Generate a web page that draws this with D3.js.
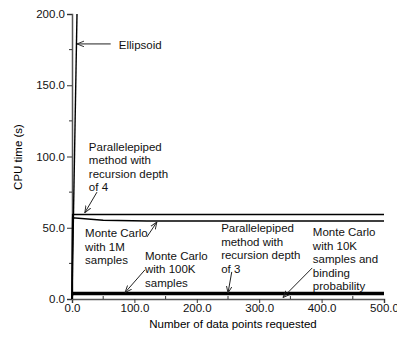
<!DOCTYPE html>
<html lang="en">
<head>
<meta charset="utf-8">
<title>CPU time</title>
<script src="https://cdn.jsdelivr.net/npm/d3@7"></script>
<style>
  body { margin: 0; background: #fff; }
  text { font-family: "Liberation Sans", Arial, sans-serif; }
</style>
</head>
<body>
<script>
// series values (x = data points, y = CPU seconds)
var ellipsoid = [[0, 0], [8, 200]];
var para4 = [[0, 0], [1, 59.3], [500, 59.3]];
var mc1M = [[0, 0], [1, 57], [50, 55.3], [120, 54.7], [500, 54.7]];
var mc100K = [[0, 0], [1, 4.6], [500, 4.6]];
var para3 = [[0, 0], [1, 3.9], [500, 3.9]];
var mc10K = [[0, 0], [1, 3.2], [500, 3.2]];

var xTicks = [0, 100, 200, 300, 400, 500];
var yTicks = [0, 50, 100, 150, 200];

// annotation labels: text position, arrow start and arrow tip (data units)
var notes = [
  { lines: ["Ellipsoid"], tx: 75, ty: 175.5, from: [62, 179], to: [8, 179] },
  { lines: ["Parallelepiped", "method with", "recursion depth", "of 4"], tx: 27, ty: 104, from: [40, 75], to: [20.5, 60.5] },
  { lines: ["Monte Carlo", "with 1M", "samples"], tx: 21, ty: 43.5, from: [120, 43.5], to: [136, 54] },
  { lines: ["Monte Carlo", "with 100K", "samples"], tx: 117, ty: 27.4, from: [117, 20.5], to: [85, 4.5] },
  { lines: ["Parallelepiped", "method with", "recursion depth", "of 3"], tx: 239, ty: 47, from: [256, 19], to: [250, 4.2] },
  { lines: ["Monte Carlo", "with 10K", "samples and", "binding", "probability"], tx: 386, ty: 44.2, from: [385, 21.8], to: [338, 1] }
];

var width = 397, height = 337;
var x = d3.scaleLinear().domain([0, 500]).range([72, 384]);
var y = d3.scaleLinear().domain([0, 200]).range([299, 14]);

var svg = d3.select("body").append("svg")
    .attr("width", width)
    .attr("height", height);

svg.append("defs").append("marker")
    .attr("id", "head")
    .attr("viewBox", "0 0 10 10")
    .attr("refX", 10).attr("refY", 5)
    .attr("markerWidth", 7).attr("markerHeight", 7)
    .attr("markerUnits", "userSpaceOnUse")
    .attr("orient", "auto")
  .append("path")
    .attr("d", "M0,1 L10,5 L0,9")
    .attr("fill", "none")
    .attr("stroke", "#222")
    .attr("stroke-width", 1.3);

svg.append("clipPath").attr("id", "plot")
  .append("rect").attr("x", 70).attr("y", 14).attr("width", 316).attr("height", 287);

// axes
var xAxis = svg.append("g")
    .attr("transform", "translate(0,299)")
    .call(d3.axisBottom(x).tickValues(xTicks).tickFormat(d3.format(".1f")).tickSize(4).tickPadding(1));
var yAxis = svg.append("g")
    .attr("transform", "translate(72,0)")
    .call(d3.axisLeft(y).tickValues(yTicks).tickFormat(d3.format(".1f")).tickSize(5).tickPadding(2));

[xAxis, yAxis].forEach(function(a) {
  a.select(".domain").attr("stroke", "#555").attr("stroke-width", 1.5);
  a.selectAll(".tick line").attr("stroke", "#333");
  a.selectAll("text").attr("font-size", 11.5).attr("fill", "#111")
    .style("font-family", "Liberation Sans, Arial, sans-serif");
});

// minor ticks
svg.append("g").selectAll("line")
    .data([50, 150, 250, 350, 450])
  .enter().append("line")
    .attr("x1", d => x(d)).attr("x2", d => x(d))
    .attr("y1", 299).attr("y2", 296)
    .attr("stroke", "#333");
svg.append("g").selectAll("line")
    .data([25, 75, 125, 175])
  .enter().append("line")
    .attr("x1", 72).attr("x2", 69)
    .attr("y1", d => y(d)).attr("y2", d => y(d))
    .attr("stroke", "#333");

// series
var line = d3.line().x(d => x(d[0])).y(d => y(d[1]));
svg.append("g")
    .attr("clip-path", "url(#plot)")
  .selectAll("path")
    .data([ellipsoid, para4, mc1M, mc100K, para3, mc10K])
  .enter().append("path")
    .attr("d", line)
    .attr("fill", "none")
    .attr("stroke", "#000")
    .attr("stroke-width", 1.4);

// annotations
var ann = svg.append("g");
notes.forEach(function(n) {
  var t = ann.append("text")
      .attr("x", x(n.tx))
      .attr("y", y(n.ty))
      .attr("font-size", 11.5)
      .attr("fill", "#111");
  n.lines.forEach(function(s, i) {
    t.append("tspan").attr("x", x(n.tx)).attr("dy", i ? 13.5 : 0).text(s);
  });
  ann.append("line")
      .attr("x1", x(n.from[0])).attr("y1", y(n.from[1]))
      .attr("x2", x(n.to[0])).attr("y2", y(n.to[1]))
      .attr("stroke", "#222")
      .attr("stroke-width", 1)
      .attr("marker-end", "url(#head)");
});

// axis titles
svg.append("text")
    .attr("x", 233).attr("y", 328)
    .attr("text-anchor", "middle")
    .attr("font-size", 11.5)
    .text("Number of data points requested");
svg.append("text")
    .attr("transform", "translate(22,157) rotate(-90)")
    .attr("text-anchor", "middle")
    .attr("font-size", 11.5)
    .text("CPU time (s)");
</script>
</body>
</html>
